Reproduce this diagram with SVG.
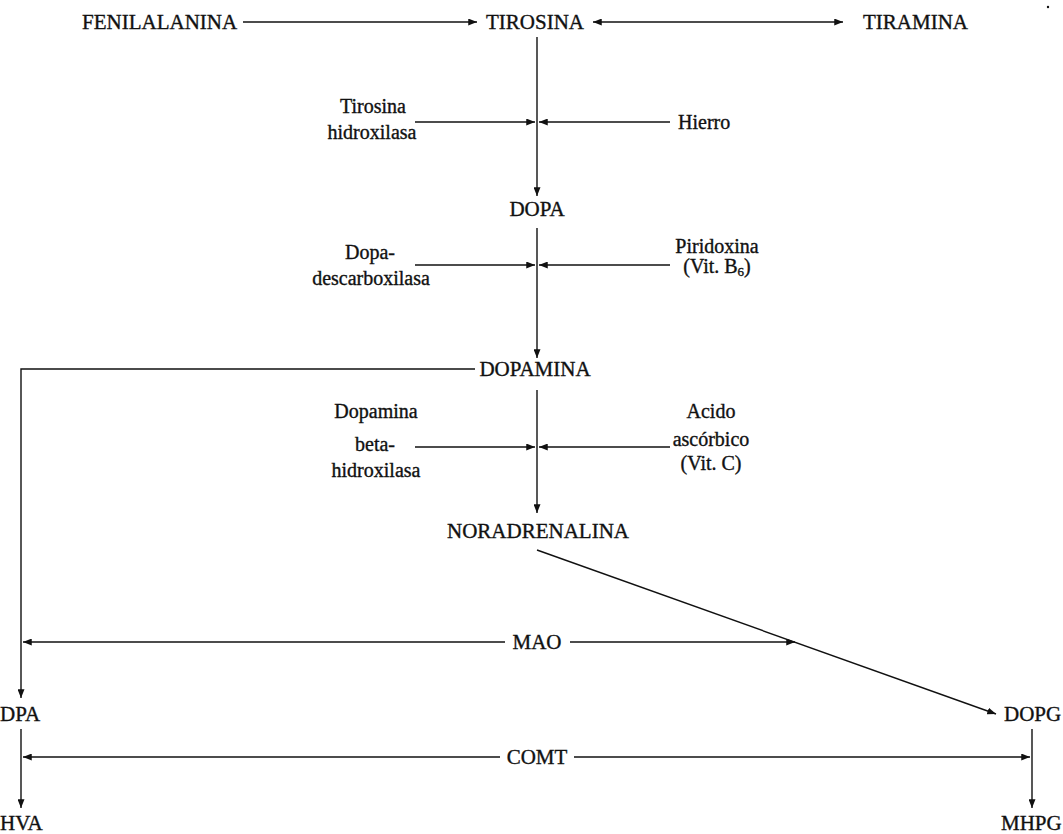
<svg xmlns="http://www.w3.org/2000/svg" width="1063" height="834" viewBox="0 0 1063 834">
  <style>
    .bg { fill: #ffffff; }
    text { font-family: "Liberation Serif", "Times New Roman", serif; fill: #111; stroke: #111; stroke-width: 0.35; }
    .cap { font-size: 21px; }
    .low { font-size: 20px; }
    .mid { text-anchor: middle; }
    .ln { stroke: #111; stroke-width: 1.4; fill: none; }
    .arr { marker-end: url(#head); }
  </style>
  <defs>
    <marker id="head" viewBox="0 0 10 8" refX="10" refY="4" markerWidth="9" markerHeight="7" markerUnits="userSpaceOnUse" orient="auto">
      <path d="M0,0 L10,4 L0,8 Z" fill="#111"/>
    </marker>
  </defs>
  <rect class="bg" x="0" y="0" width="1063" height="834"/>

  <!-- metabolites -->
  <g id="fenilalanina"><text class="cap" x="82" y="29">FENILALANINA</text></g>
  <g id="tirosina"><text class="cap mid" x="535" y="29">TIROSINA</text></g>
  <g id="tiramina"><text class="cap" x="863" y="29">TIRAMINA</text></g>
  <g id="dopa"><text class="cap mid" x="537" y="216">DOPA</text></g>
  <g id="dopamina"><text class="cap mid" x="535" y="376">DOPAMINA</text></g>
  <g id="noradrenalina"><text class="cap mid" x="538" y="538">NORADRENALINA</text></g>
  <g id="dpa"><text class="cap" x="0" y="721">DPA</text></g>
  <g id="dopg"><text class="cap" x="1004" y="721">DOPG</text></g>
  <g id="hva"><text class="cap" x="0" y="830">HVA</text></g>
  <g id="mhpg"><text class="cap" x="1001" y="830">MHPG</text></g>

  <!-- enzymes and cofactors -->
  <g id="tirosina-hidroxilasa">
    <text class="low mid" x="373" y="113">Tirosina</text>
    <text class="low mid" x="372" y="139">hidroxilasa</text>
  </g>
  <g id="hierro"><text class="low" x="678" y="129">Hierro</text></g>
  <g id="dopa-descarboxilasa">
    <text class="low mid" x="370" y="259">Dopa-</text>
    <text class="low mid" x="371" y="285">descarboxilasa</text>
  </g>
  <g id="piridoxina">
    <text class="low mid" x="717" y="253">Piridoxina</text>
    <text class="low mid" x="717" y="273">(Vit. B<tspan font-size="13" dy="3">6</tspan><tspan dy="-3">)</tspan></text>
  </g>
  <g id="dopamina-beta-hidroxilasa">
    <text class="low mid" x="376" y="418">Dopamina</text>
    <text class="low mid" x="375" y="451">beta-</text>
    <text class="low mid" x="376" y="477">hidroxilasa</text>
  </g>
  <g id="acido-ascorbico">
    <text class="low mid" x="711" y="418">Acido</text>
    <text class="low mid" x="711" y="446">ascórbico</text>
    <text class="low mid" x="711" y="470">(Vit. C)</text>
  </g>
  <g id="mao"><text class="cap mid" x="537" y="649">MAO</text></g>
  <g id="comt"><text class="cap mid" x="537" y="764">COMT</text></g>

  <!-- connectors -->
  <g id="connectors">
    <line class="ln arr" x1="243" y1="22" x2="477" y2="22"/>
    <line class="ln arr" x1="718" y1="22" x2="593" y2="22"/>
    <line class="ln arr" x1="718" y1="22" x2="843" y2="22"/>

    <line class="ln arr" x1="537" y1="37" x2="537" y2="196"/>
    <line class="ln arr" x1="415" y1="122" x2="535" y2="122"/>
    <line class="ln arr" x1="670" y1="122" x2="539" y2="122"/>

    <line class="ln arr" x1="537" y1="228" x2="537" y2="358"/>
    <line class="ln arr" x1="415" y1="265" x2="535" y2="265"/>
    <line class="ln arr" x1="670" y1="265" x2="539" y2="265"/>

    <polyline class="ln arr" points="475,369 21,369 21,698"/>
    <line class="ln arr" x1="537" y1="390" x2="537" y2="513"/>
    <line class="ln arr" x1="415" y1="447" x2="535" y2="447"/>
    <line class="ln arr" x1="670" y1="447" x2="539" y2="447"/>

    <line class="ln arr" x1="537" y1="550" x2="996" y2="714"/>
    <line class="ln arr" x1="505" y1="642" x2="23" y2="642"/>
    <line class="ln arr" x1="570" y1="642" x2="795" y2="642"/>

    <line class="ln arr" x1="21" y1="729" x2="21" y2="808"/>
    <line class="ln arr" x1="1032" y1="729" x2="1032" y2="808"/>
    <line class="ln arr" x1="500" y1="757" x2="23" y2="757"/>
    <line class="ln arr" x1="574" y1="757" x2="1030" y2="757"/>
  </g>

  <circle cx="1048" cy="7" r="1.2" fill="#111"/>
</svg>
